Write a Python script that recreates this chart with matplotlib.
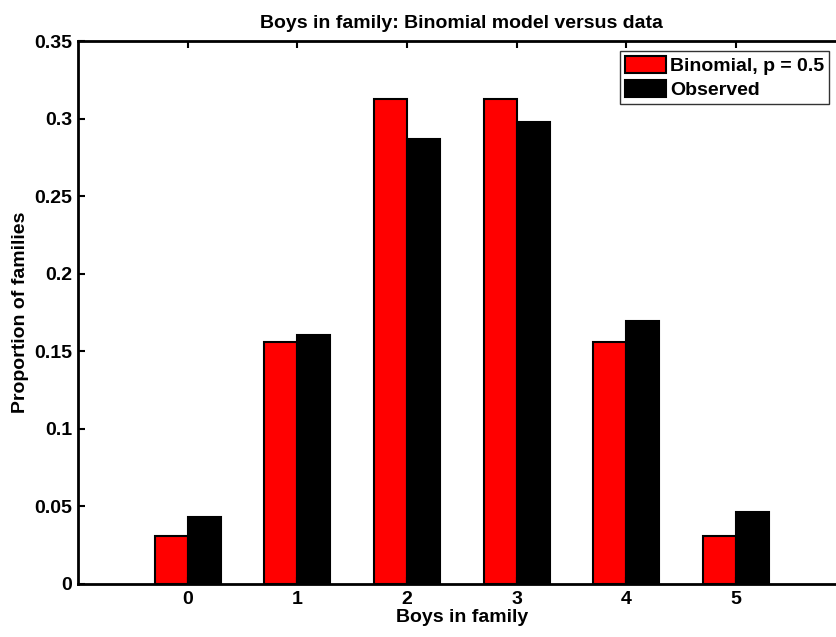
import matplotlib
matplotlib.use('Agg')
import matplotlib.pyplot as plt
import numpy as np

plt.rcParams['font.family'] = ['Liberation Sans', 'DejaVu Sans']
plt.rcParams['font.weight'] = 'bold'

# data
boys = [0, 1, 2, 3, 4, 5]
binomial = [0.03125, 0.15625, 0.3125, 0.3125, 0.15625, 0.03125]
observed = [0.0435, 0.1608, 0.2870, 0.2975, 0.1695, 0.0462]

fs = 14
fig = plt.figure(figsize=(8.37, 6.37), dpi=100)
# axes runs off the right edge like the original figure
ax = fig.add_axes([78/837, 1 - 584/637, (845.6 - 78)/837, (584 - 41)/637])

x = np.array(boys)
w = 0.3
ax.bar(x - w/2, binomial, w, color='red', edgecolor='black', linewidth=1.5,
       label='Binomial, p = 0.5')
ax.bar(x + w/2, observed, w, color='black', edgecolor='black', linewidth=1.5,
       label='Observed')

ax.set_xlim(-1, 6)
ax.set_ylim(0, 0.35)
ax.set_xticks(boys)
ax.set_yticks([0, 0.05, 0.1, 0.15, 0.2, 0.25, 0.3, 0.35])
ax.set_yticklabels(['0', '0.05', '0.1', '0.15', '0.2', '0.25', '0.3', '0.35'])
ax.tick_params(direction='in', length=5, width=1.5, top=True, right=True,
               labelsize=fs)
ax.tick_params(axis='x', pad=5)
ax.tick_params(axis='y', pad=4)
for s in ax.spines.values():
    s.set_linewidth(2)

ax.set_title('Boys in family: Binomial model versus data', fontsize=fs,
             fontweight='bold', pad=9)
ax.set_xlabel('Boys in family', fontsize=fs, fontweight='bold', labelpad=1)
ax.set_ylabel('Proportion of families', fontsize=fs, fontweight='bold', labelpad=4)

leg = ax.legend(loc='upper right', bbox_to_anchor=(829/837, 1 - 51/637),
                bbox_transform=fig.transFigure, fontsize=fs, frameon=True,
                fancybox=False, edgecolor='black', borderpad=0.25,
                handlelength=2.1, handleheight=1.0, handletextpad=0.2,
                labelspacing=0.25, borderaxespad=0)
leg.get_frame().set_linewidth(1)

plt.savefig('out.png', dpi=100)
plt.close()
